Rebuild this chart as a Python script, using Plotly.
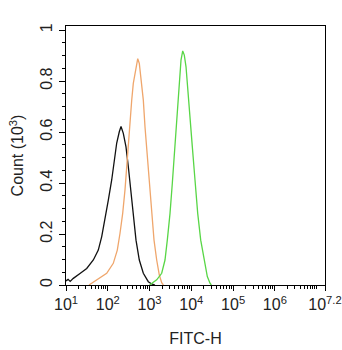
import numpy as np
import plotly.graph_objects as go

# FITC-H position in decades (log10) and event count (x10^3) for each histogram
black_log = [1.00, 1.05, 1.10, 1.175, 1.335, 1.496, 1.654, 1.773, 1.855, 1.934, 2.013, 2.094,
             2.156, 2.214, 2.276, 2.317, 2.372, 2.436, 2.492, 2.549, 2.611, 2.676, 2.755,
             2.851, 2.970, 3.052, 3.13]
black_cnt = [0.016, 0.022, 0.014, 0.026, 0.045, 0.065, 0.098, 0.137, 0.190, 0.255, 0.333, 0.412,
             0.490, 0.557, 0.601, 0.622, 0.595, 0.542, 0.464, 0.373, 0.268, 0.176, 0.098,
             0.046, 0.013, 0.004, 0.0]

orange_log = [1.55, 1.615, 1.814, 1.974, 2.132, 2.228, 2.293, 2.357, 2.412, 2.453, 2.492, 2.532,
              2.573, 2.611, 2.669, 2.717, 2.755, 2.796, 2.851, 2.891, 2.946, 2.994, 3.052,
              3.107, 3.171, 3.234, 3.291, 3.33]
orange_cnt = [0.0, 0.007, 0.026, 0.046, 0.085, 0.137, 0.203, 0.281, 0.373, 0.464, 0.569, 0.660,
              0.725, 0.791, 0.843, 0.888, 0.869, 0.817, 0.725, 0.621, 0.503, 0.386, 0.281,
              0.176, 0.098, 0.039, 0.009, 0.0]

green_log = [3.00, 3.052, 3.171, 3.291, 3.370, 3.425, 3.490, 3.545, 3.593, 3.633, 3.674, 3.712,
             3.753, 3.794, 3.832, 3.873, 3.914, 3.969, 4.024, 4.088, 4.153, 4.225, 4.304,
             4.383, 4.447, 4.48]
green_cnt = [0.0, 0.007, 0.020, 0.046, 0.098, 0.176, 0.281, 0.399, 0.516, 0.621, 0.712, 0.804,
             0.882, 0.918, 0.902, 0.856, 0.778, 0.673, 0.542, 0.412, 0.281, 0.176, 0.098,
             0.033, 0.007, 0.0]

x_tick_exp = [1, 2, 3, 4, 5, 6, 7.2]
x_tick_text = ["10<sup>1</sup>", "10<sup>2</sup>", "10<sup>3</sup>", "10<sup>4</sup>",
               "10<sup>5</sup>", "10<sup>6</sup>", "10<sup>7.2</sup>"]
y_tick_vals = [0, 0.2, 0.4, 0.6, 0.8, 1.0]
y_tick_text = ["0", "0.2", "0.4", "0.6", "0.8", "1"]

series = [
    (black_log, black_cnt, "#111111"),
    (orange_log, orange_cnt, "#EFA66C"),
    (green_log, green_cnt, "#58D646"),
]

fig = go.Figure()
for lg, cnt, col in series:
    fig.add_trace(go.Scatter(
        x=[10 ** v for v in lg], y=cnt, mode="lines",
        line=dict(color=col, width=1.3), showlegend=False, hoverinfo="skip",
    ))

font = dict(family="Liberation Sans, Arial, sans-serif", size=16, color="#222222")

x_minor = [m * 10 ** k for k in range(1, 8) for m in range(1, 10)
           if 10 ** 1 < m * 10 ** k <= 10 ** 7.2 and m > 1 or (m == 1 and k == 7)]

fig.update_layout(
    width=342, height=350,
    margin=dict(l=66, r=17, t=26, b=65),
    paper_bgcolor="white", plot_bgcolor="white",
    font=font,
    xaxis=dict(
        type="log", range=[1, 7.2], automargin=False,
        tickvals=[10 ** e for e in x_tick_exp], ticktext=x_tick_text, tickangle=0,
        ticks="outside", ticklen=5, tickwidth=1.2, tickcolor="black",
        minor=dict(tickvals=x_minor, ticks="outside", ticklen=3, tickwidth=1, tickcolor="black"),
        showline=True, mirror=True, linecolor="black", linewidth=1.3,
        showgrid=False, zeroline=False,
        title=dict(text="FITC-H", font=font, standoff=20),
        tickfont=font,
    ),
    yaxis=dict(
        range=[0, 1.016], automargin=False,
        tickvals=y_tick_vals, ticktext=y_tick_text, tickangle=-90,
        ticks="outside", ticklen=6, tickwidth=1.2, tickcolor="black",
        minor=dict(tickvals=[i * 0.05 for i in range(21)], ticks="outside", ticklen=3,
                   tickwidth=1, tickcolor="black"),
        showline=True, mirror=True, linecolor="black", linewidth=1.3,
        showgrid=False, zeroline=False,
        title=dict(text="Count (10<sup>3</sup>)", font=font, standoff=10),
        tickfont=font,
    ),
)

fig.write_html("out.html")
